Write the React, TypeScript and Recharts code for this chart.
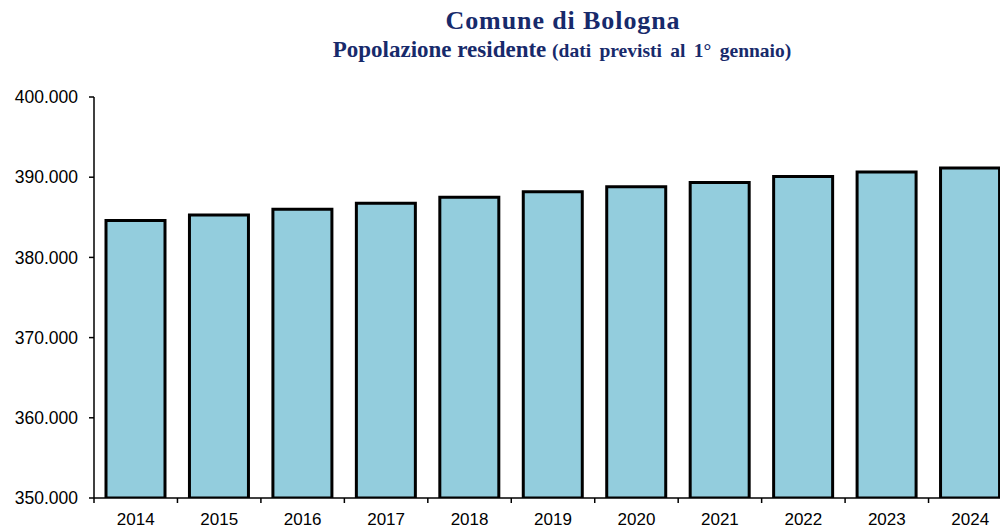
import React from 'react';
import { BarChart, Bar, XAxis, YAxis } from 'recharts';

// popolazione residente al 1° gennaio (previsioni)
const years = ['2014', '2015', '2016', '2017', '2018', '2019', '2020', '2021', '2022', '2023', '2024'];
const residents = [384600, 385300, 386000, 386750, 387500, 388200, 388800, 389350, 390100, 390650, 391150];
const yTicks = [350000, 360000, 370000, 380000, 390000, 400000];

const data = years.map((year, i) => ({ year, residents: residents[i] }));

const CHART_W = 1020;
const CHART_H = 528;
const MARGIN = { top: 97, right: 8, bottom: 0, left: 0 };
const Y_AXIS_W = 94;
const TICK_SIZE = 5;
const TICK_MARGIN = 10;
const NAVY = '#172a6b';
const AXIS_FONT = "'Liberation Sans', Arial, sans-serif";

const fmt = (v: number) => String(v).replace(/\B(?=(\d{3})+(?!\d))/g, '.');

// label at the category centre, tick mark on the category boundary
const XTick = (props: any) => {
  const { x, y, payload } = props;
  const fallback = (CHART_W - MARGIN.left - MARGIN.right - Y_AXIS_W) / years.length / 2;
  const half = typeof payload?.offset === 'number' && payload.offset > 0 ? payload.offset : fallback;
  const axisY = y - TICK_SIZE - TICK_MARGIN;
  return (
    <g>
      <line x1={x - half} x2={x - half} y1={axisY} y2={axisY + TICK_SIZE} stroke="#000" strokeWidth={1.5} />
      <text x={x} y={y} dy="0.71em" textAnchor="middle" fill="#000" fontSize={17} fontFamily={AXIS_FONT}>
        {payload.value}
      </text>
    </g>
  );
};

const App = () => {
  return (
    <div style={{ position: 'absolute', left: 0, top: 0, width: 1000, height: 528, overflow: 'hidden', background: '#fff' }}>
      <svg width={1000} height={70} style={{ position: 'absolute', left: 0, top: 0 }}>
        <text x={563} y={29} textAnchor="middle" fill={NAVY} fontFamily="'Liberation Serif', 'Times New Roman', serif" fontWeight="bold" fontSize={26} letterSpacing={0.9}>
          Comune di Bologna
        </text>
        <text x={562} y={57} textAnchor="middle" fill={NAVY} fontFamily="'Liberation Serif', 'Times New Roman', serif" fontWeight="bold">
          <tspan fontSize={23}>Popolazione residente </tspan>
          <tspan fontSize={19.5} wordSpacing={3.5}>(dati previsti al 1° gennaio)</tspan>
        </text>
      </svg>
      <div style={{ position: 'absolute', left: 0, top: 0 }}>
        <BarChart width={CHART_W} height={CHART_H} data={data} margin={MARGIN}>
          <XAxis
            dataKey="year"
            height={30}
            axisLine={{ stroke: '#000', strokeWidth: 1.5 }}
            tickLine={false}
            tickSize={TICK_SIZE}
            tickMargin={TICK_MARGIN}
            tick={<XTick />}
            interval={0}
          />
          <YAxis
            width={Y_AXIS_W}
            domain={[350000, 400000]}
            ticks={yTicks}
            allowDataOverflow
            tickFormatter={fmt}
            axisLine={{ stroke: '#000', strokeWidth: 1.5 }}
            tickLine={{ stroke: '#000', strokeWidth: 1.5 }}
            tickSize={TICK_SIZE}
            tickMargin={11}
            tick={{ fill: '#000', fontSize: 17.5, fontFamily: AXIS_FONT }}
          />
          <Bar dataKey="residents" barSize={59} fill="#93cddd" stroke="#000" strokeWidth={3} isAnimationActive={false} />
        </BarChart>
      </div>
    </div>
  );
};

export default App;
